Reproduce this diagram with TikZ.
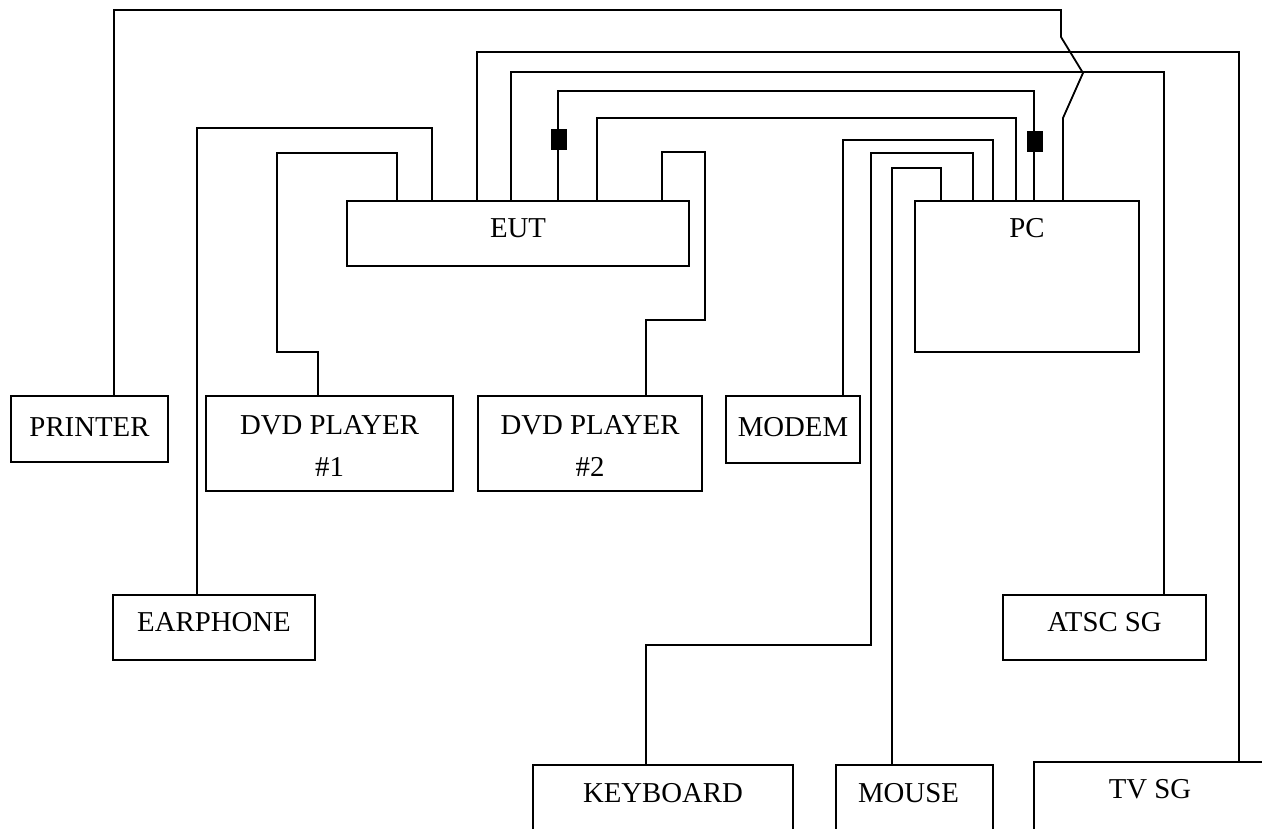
\documentclass[tikz,border=0pt]{standalone}
\usepackage{fontspec}
\setmainfont{Liberation Serif}
\usepackage{xcolor}
\usepackage{tikz}
\usetikzlibrary{calc}
\tikzstyle{unit}=[rectangle,draw=black,line width=1.8pt,inner sep=0pt,outer sep=0pt,anchor=north west,align=center,font=\fontsize{28.8}{42}\selectfont]
\tikzstyle{ferrite}=[rectangle,fill=black,minimum width=16pt,minimum height=21pt,inner sep=0pt,outer sep=0pt]
\tikzstyle{wire} = [draw,line width=1.8pt]

\begin{document}
\begin{tikzpicture}[x=1pt,y=-1pt]

  \clip (0,0) rectangle (1262,828);

   % b is the last baseline below the top edge
   \foreach \x/\y/\w/\h/\b/\name/\label in {347/201/342/65/36/EUT/EUT, 915/201/224/151/36/PC/PC, 11/396/157/66/40/PRINTER/PRINTER, 726/396/134/67/40/MODEM/MODEM, 113/595/202/65/36/EARPHONE/EARPHONE, 1003/595/203/65/36/ATSC/ATSC SG, 533/765/260/90/37/KEYBOARD/KEYBOARD, 836/765/157/90/37/MOUSE/{MOUSE\hspace*{12pt}}, 1034/762/232/90/36/TVSG/TV SG, 206/396/247/95/80/DVDA/{DVD PLAYER\\\#1}, 478/396/224/95/80/DVDB/{DVD PLAYER\\\#2}}
   {
          \pgfmathsetmacro\d{\h-\b}
          \node[unit,minimum width=\w pt,text height=\b pt,text depth=\d pt] (\name) at (\x, \y) {\label};
   }

   \node[ferrite] (FL) at (558.5,139.5) {};
   \node[ferrite] (FR) at (1034.5,141.5) {};

   % EUT side
   \path[wire] (PRINTER.north -| 114,0) -- (114,10) -- (1061,10) -- (1061,37) -- (1083,73) -- (1063,118) -- (PC.north -| 1063,0);
   \path[wire] (TVSG.north -| 1239,0) -- (1239,52) -- (477,52) -- (EUT.north -| 477,0);
   \path[wire] (ATSC.north -| 1164,0) -- (1164,72) -- (511,72) -- (EUT.north -| 511,0);
   \path[wire] (EUT.north -| 558,0) -- (FL.south -| 558,0);
   \path[wire] (FL.north -| 558,0) -- (558,91) -- (1034,91) -- (FR.north -| 1034,0);
   \path[wire] (FR.south -| 1034,0) -- (PC.north -| 1034,0);
   \path[wire] (EUT.north -| 597,0) -- (597,118) -- (1016,118) -- (PC.north -| 1016,0);
   \path[wire] (EUT.north -| 662,0) -- (662,152) -- (705,152) -- (705,320) -- (646,320) -- (DVDB.north -| 646,0);
   \path[wire] (EUT.north -| 397,0) -- (397,153) -- (277,153) -- (277,352) -- (318,352) -- (DVDA.north -| 318,0);
   \path[wire] (EUT.north -| 432,0) -- (432,128) -- (197,128) -- (EARPHONE.north -| 197,0);

   % PC side
   \path[wire] (MODEM.north -| 843,0) -- (843,140) -- (993,140) -- (PC.north -| 993,0);
   \path[wire] (KEYBOARD.north -| 646,0) -- (646,645) -- (871,645) -- (871,153) -- (973,153) -- (PC.north -| 973,0);
   \path[wire] (MOUSE.north -| 892,0) -- (892,168) -- (941,168) -- (PC.north -| 941,0);

\end{tikzpicture}
\end{document}
